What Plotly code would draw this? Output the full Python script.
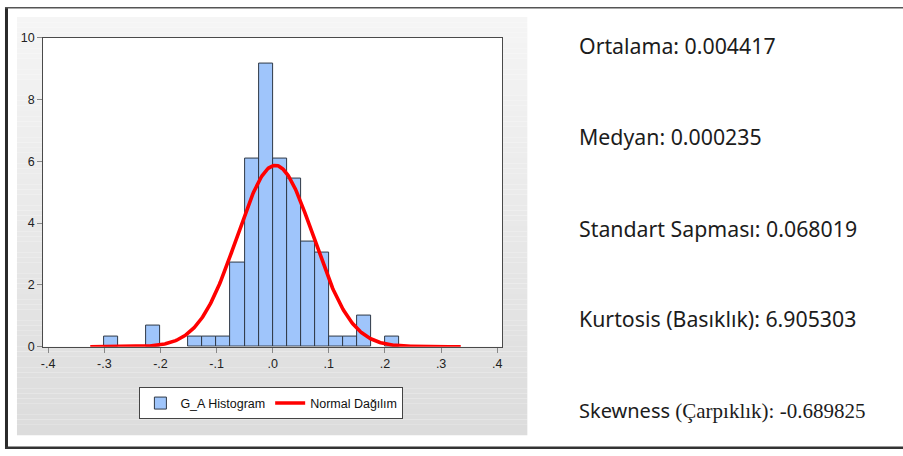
import numpy as np
import plotly.graph_objects as go

W, H = 903, 456

# ---- data ----
bin_left = [-0.300, -0.225, -0.150, -0.125, -0.100, -0.075, -0.050, -0.025,
            0.000, 0.025, 0.050, 0.075, 0.100, 0.125, 0.150, 0.200]
counts = [1, 2, 1, 1, 1, 8, 18, 27, 18, 16, 10, 9, 1, 1, 3, 1]
bin_width = 0.025
n_obs = 118

mean_val = 0.004417
sd_val = 0.068019
curve_lo, curve_hi = -0.325, 0.335

x_tick_vals = [-0.4, -0.3, -0.2, -0.1, 0.0, 0.1, 0.2, 0.3, 0.4]
x_tick_text = ["-.4", "-.3", "-.2", "-.1", ".0", ".1", ".2", ".3", ".4"]
y_tick_vals = [0, 2, 4, 6, 8, 10]
y_tick_text = ["0", "2", "4", "6", "8", "10"]

stat_lines = [
    "Ortalama: 0.004417",
    "Medyan: 0.000235",
    "Standart Sapması: 0.068019",
    "Kurtosis (Basıklık): 6.905303",
]
skew_label = "Skewness"
skew_rest = "(Çarpıklık): -0.689825"

# ---- derived ----
centers = [b + bin_width / 2 for b in bin_left]
density = [c / (n_obs * bin_width) for c in counts]
xc = np.linspace(curve_lo, curve_hi, 400)
yc = np.exp(-0.5 * ((xc - mean_val) / sd_val) ** 2) / (sd_val * np.sqrt(2 * np.pi))

# vertical placement compensation for the capture (target pixel -> figure pixel)
V_OFF, V_SCALE = 7.8, 0.967


def px(x):
    return x / W


def py(y):
    fy = (y - V_OFF) / V_SCALE
    fy = min(max(fy, 0.0), H)
    return 1 - fy / H


fig = go.Figure()
fig.add_trace(go.Bar(
    x=centers, y=density, width=bin_width, name="G_A Histogram",
    marker=dict(color="#9fc5fb", line=dict(color="#2f3946", width=1)),
))
fig.add_trace(go.Scatter(
    x=xc, y=yc, mode="lines", name="Normal Dağılım",
    line=dict(color="#ff0000", width=3.6), cliponaxis=False,
))

shapes = []
# gradient panel
p_x0, p_x1, p_y0, p_y1 = 15, 526.5, 17.7, 435
nstrip = 80
for i in range(nstrip):
    t = i / (nstrip - 1)
    c = int(round(245 - 25 * t))
    y0 = p_y0 + (p_y1 - p_y0) * i / nstrip
    y1 = p_y0 + (p_y1 - p_y0) * (i + 1) / nstrip
    shapes.append(dict(type="rect", xref="paper", yref="paper", layer="below",
                       x0=px(p_x0), x1=px(p_x1), y0=py(y1), y1=py(y0),
                       line=dict(width=0), fillcolor=f"rgb({c},{c},{c})"))
# white plot area
pl_x0, pl_x1, pl_y0, pl_y1 = 41.2, 501.4, 38.3, 346.7
shapes.append(dict(type="rect", xref="paper", yref="paper", layer="below",
                   x0=px(pl_x0), x1=px(pl_x1), y0=py(pl_y1), y1=py(pl_y0),
                   line=dict(width=0), fillcolor="white"))
# outer frame lines
shapes.append(dict(type="line", xref="paper", yref="paper", x0=px(4.5), x1=px(4.5),
                   y0=py(0), y1=py(460), line=dict(color="#2a2a2a", width=3)))
shapes.append(dict(type="line", xref="paper", yref="paper", x0=px(3), x1=1,
                   y0=1 - 0.7 / H, y1=1 - 0.7 / H, line=dict(color="#555555", width=1.4)))
shapes.append(dict(type="line", xref="paper", yref="paper", x0=px(3), x1=1,
                   y0=1.3 / H, y1=1.3 / H, line=dict(color="#333333", width=2.6)))

annotations = []
ys = [46.7, 136.7, 228.3, 318.3]
for t, yv in zip(stat_lines, ys):
    annotations.append(dict(xref="paper", yref="paper", x=px(576), y=py(yv),
                            xanchor="left", yanchor="middle", showarrow=False, text=t,
                            font=dict(family="Noto Sans", size=21.3, color="#1c1c1c")))
annotations.append(dict(xref="paper", yref="paper", x=px(576), y=py(410),
                        xanchor="left", yanchor="middle", showarrow=False,
                        text=skew_label + ' <span style="font-family:Liberation Serif;font-size:21px">'
                        + skew_rest + "</span>",
                        font=dict(family="Noto Sans", size=20, color="#1c1c1c")))

axis_font = dict(family="Arial", size=12.5, color="#222222")
fig.update_layout(
    width=W, height=H, autosize=False,
    margin=dict(l=0, r=0, t=0, b=0),
    paper_bgcolor="white", plot_bgcolor="rgba(0,0,0,0)",
    shapes=shapes, annotations=annotations,
    bargap=0,
    xaxis=dict(domain=[px(pl_x0), px(pl_x1)], range=[-0.409, 0.409],
               tickvals=x_tick_vals, ticktext=x_tick_text, ticks="outside",
               ticklen=5, tickcolor="#888888", showline=True, linecolor="#4a4a4a",
               linewidth=1, mirror=True, showgrid=False, zeroline=False,
               tickfont=axis_font, fixedrange=True),
    yaxis=dict(domain=[py(pl_y1), py(pl_y0)], range=[0, 10],
               tickvals=y_tick_vals, ticktext=y_tick_text, ticks="outside",
               ticklen=5, tickcolor="#888888", showline=True, linecolor="#4a4a4a",
               linewidth=1, mirror=True, showgrid=False, zeroline=False,
               tickfont=axis_font, fixedrange=True),
    legend=dict(orientation="h", x=px(270), xanchor="center", y=py(403.3),
                yanchor="middle", bgcolor="white", bordercolor="#444444",
                borderwidth=1, font=dict(family="Arial", size=12.5, color="#111111"),
                itemwidth=30),
    showlegend=True,
)

fig.write_html(
    "out.html",
    config={"displayModeBar": False, "responsive": False},
    post_script=(
        "var d=document.getElementById('{plot_id}');"
        "d.style.position='fixed';d.style.left='0px';d.style.top='0px';"
        "document.body.style.margin='0';"
        "document.documentElement.style.overflow='hidden';"
    ),
)
